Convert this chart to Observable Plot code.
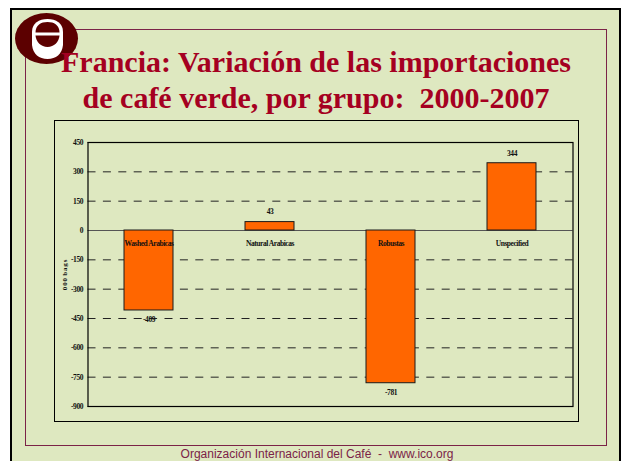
<!DOCTYPE html>
<html><head><meta charset="utf-8">
<script src="https://cdn.jsdelivr.net/npm/d3@7"></script>
<script src="https://cdn.jsdelivr.net/npm/@observablehq/plot@0.6"></script>
<style>
html,body{margin:0;padding:0;background:#fff;overflow:hidden}
#slide{position:relative;width:621px;height:461px;overflow:hidden;font-family:"Liberation Serif",serif}
.abs{position:absolute;box-sizing:border-box}
#bg{left:10px;top:8px;width:611px;height:470px;background:#DEE8C0;border:2.5px solid #000}
#frame{left:25px;top:28.5px;width:582px;height:417px;border:1px solid #7B2347}
#box{left:53.5px;top:120px;width:525px;height:302px;border:1.3px solid #000}
#title{left:0;top:43.5px;width:632px;text-align:center;color:#A50021;font-weight:bold;font-size:30px;line-height:36px;white-space:pre}
#foot{left:0;top:447px;width:634px;text-align:center;color:#7B2347;font-family:"Liberation Sans",sans-serif;font-size:12px;line-height:14px;white-space:pre}
#chart{left:0;top:0}
#logo{left:15px;top:12px}
</style></head><body>
<div id="slide">
<div class="abs" id="bg"></div>
<div class="abs" id="frame"></div>
<div class="abs" id="box"></div>
<svg class="abs" id="logo" width="64" height="54" viewBox="0 0 64 54">
<ellipse cx="31.5" cy="26.5" rx="31.5" ry="25.5" fill="#5C0000"/>
<path d="M17 20 C17 11 24 7 32.5 7 C41 7 48 11 48 20 L48 33 C47 42 41 47 32.5 47 C24 47 18 42 17 33 Z" fill="#fff"/>
<path d="M20.5 20.5 C20.5 13 26 10 32.5 10 C39 10 44.5 13 44.5 20.5 Z" fill="#5C0000"/>
<path d="M20.5 23.5 L44.5 23.5 C44 30 39 35 32.5 35 C26 35 21 30 20.5 23.5 Z" fill="#5C0000"/>
</svg>
<div class="abs" id="title">Francia: Variación de las importaciones
de café verde, por grupo:  2000-2007</div>
<div class="abs" id="foot">Organización Internacional del Café  -  www.ico.org</div>
<div class="abs" id="chart"></div>
</div>
<script>
const categories = ["Washed Arabicas","Natural Arabicas","Robustas","Unspecified"];
const values = [-409,43,-781,344];
const yTicks = [450,300,150,0,-150,-300,-450,-600,-750,-900];
const axisLabel = ["0 0 0  b a g s"];
const rows = categories.map((c,i)=>({c,v:values[i]}));
const ink = "#111";
const plot = Plot.plot({
  width:621,height:461,
  marginLeft:87.5,marginRight:48.5,marginTop:142,marginBottom:55,
  style:{background:"transparent",fontFamily:"Liberation Serif",overflow:"visible",letterSpacing:"-0.45px"},
  x:{domain:categories,padding:0.595,paddingOuter:0.2975,axis:null},
  y:{domain:[-900,450],axis:null},
  marks:[
    Plot.ruleY(yTicks.filter(d=>d!==0),{y:d=>d,stroke:"#222",strokeWidth:1,strokeDasharray:"8 7.4"}),
    Plot.ruleY([0],{stroke:"#555",strokeWidth:1}),
    Plot.frame({stroke:"#000",strokeWidth:1.2}),
    Plot.barY(rows,{x:"c",y:"v",fill:"#FF6600",stroke:"#1a1a1a",strokeWidth:1}),
    Plot.text(yTicks,{frameAnchor:"left",y:d=>d,text:d=>String(d),dx:-5,textAnchor:"end",fontSize:7.5,fontWeight:"bold",fill:ink}),
    Plot.text(rows,{x:"c",y:()=>0,text:"c",dy:13,fontSize:7.5,fontWeight:"bold",fill:ink}),
    Plot.text(rows,{filter:d=>d.v>0,x:"c",y:"v",text:d=>String(d.v),dy:-10,fontSize:7.5,fontWeight:"bold",fill:ink}),
    Plot.text(rows,{filter:d=>d.v<0,x:"c",y:"v",text:d=>String(d.v),dy:9,fontSize:7.5,fontWeight:"bold",fill:ink}),
    Plot.text(axisLabel,{frameAnchor:"left",y:()=>-305,text:d=>d,rotate:-90,dx:-23,fontSize:7,fontWeight:"bold",fill:ink})
  ]
});
document.getElementById("chart").append(plot);
</script>
</body></html>
